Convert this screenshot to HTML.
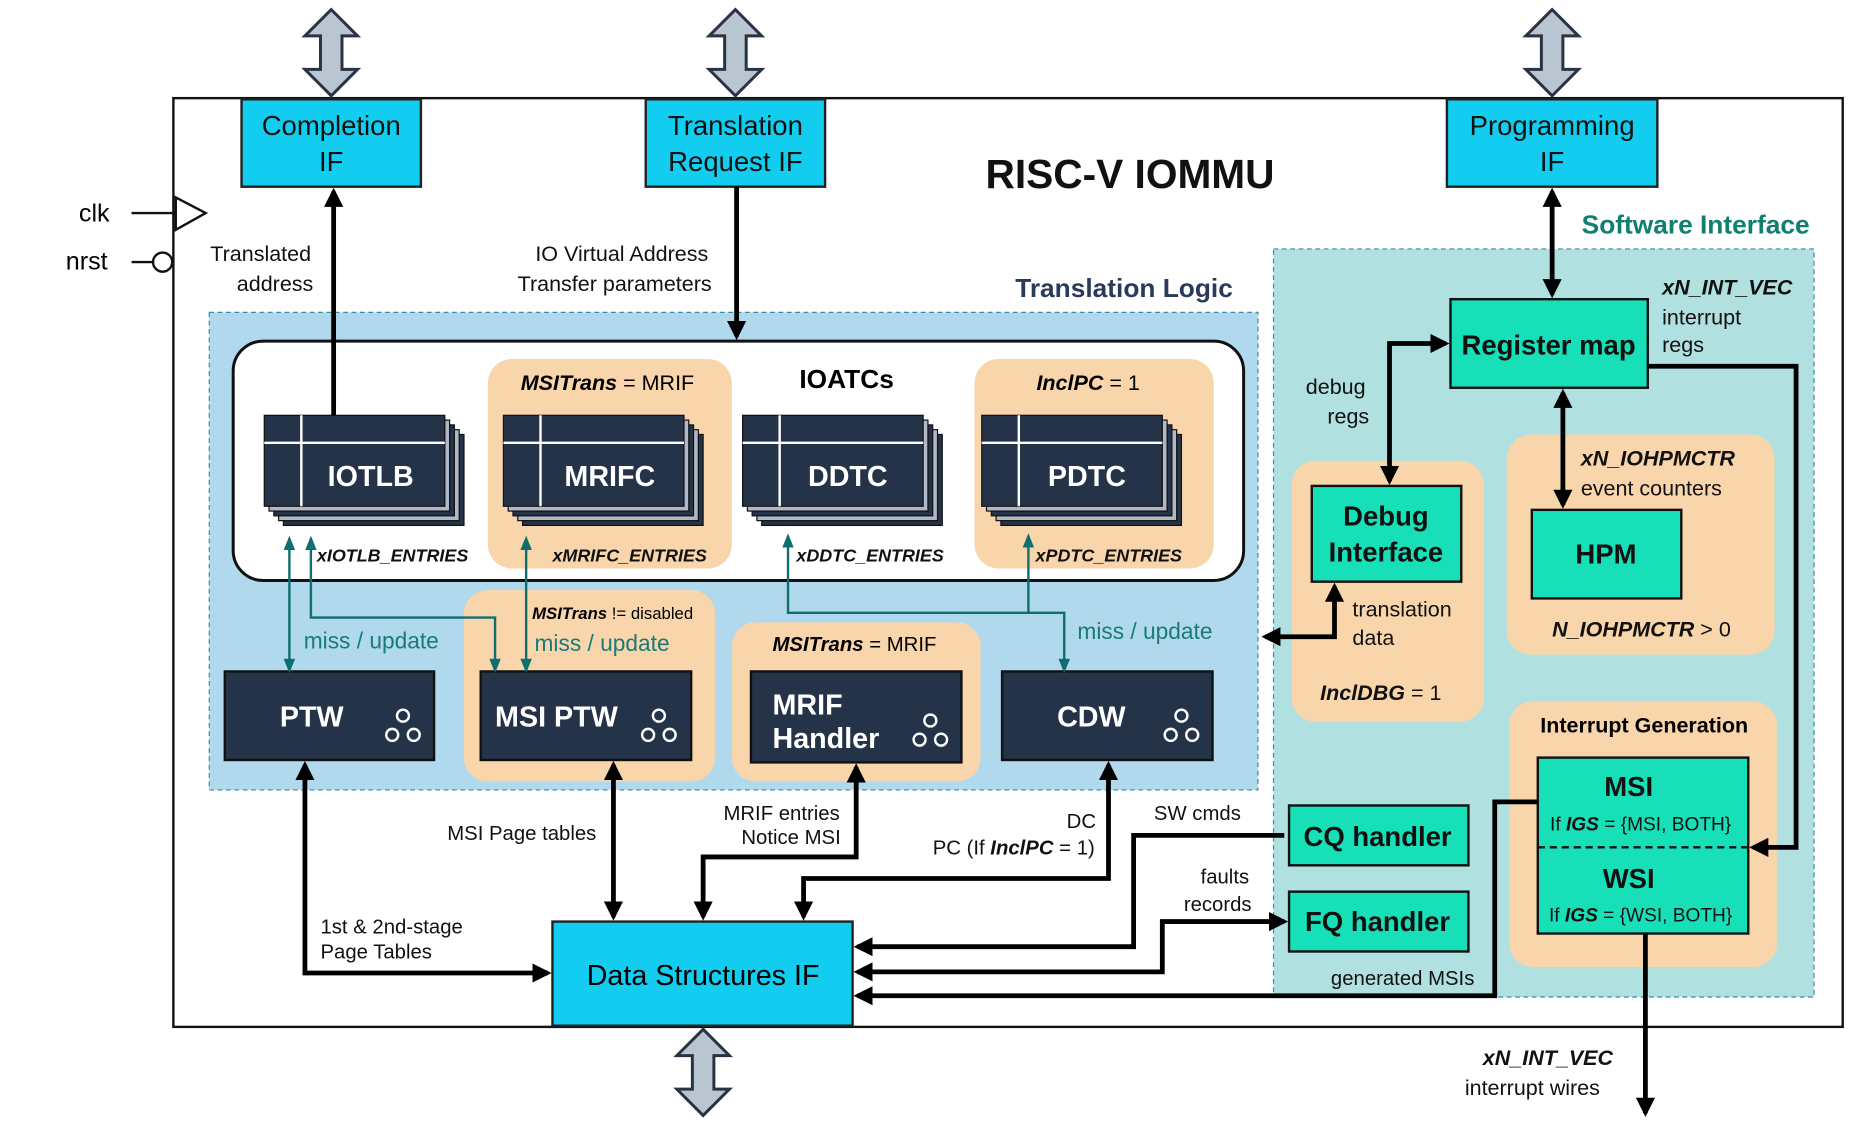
<!DOCTYPE html>
<html><head><meta charset="utf-8"><style>
html,body{margin:0;padding:0;background:#fff}
svg{display:block}
text{font-family:"Liberation Sans",sans-serif}
</style></head><body>
<svg width="1875" height="1137" viewBox="0 0 1568 950" preserveAspectRatio="none" xmlns="http://www.w3.org/2000/svg">
<defs>
<marker id="ah" viewBox="0 0 10 10" refX="8" refY="5" markerWidth="4" markerHeight="4" orient="auto-start-reverse"><path d="M0,0L10,5L0,10z" fill="#000"/></marker>
<marker id="at" viewBox="0 0 10 10" refX="8" refY="5" markerWidth="6" markerHeight="6" orient="auto-start-reverse"><path d="M0,1L10,5L0,9z" fill="#0f6e6e"/></marker>
<g id="dbl"><path d="M0,0 L-22,22 L-9,22 L-9,50 L-22,50 L0,72 L22,50 L9,50 L9,22 L22,22 Z" fill="#b9c5d1" stroke="#2a3342" stroke-width="2.5"/></g>
<g id="cyc" fill="none" stroke="#fff" stroke-width="2"><circle cx="0" cy="-9" r="5"/><circle cx="-9" cy="7" r="5"/><circle cx="9" cy="7" r="5"/></g>
</defs>
<rect x="145" y="82" width="1396" height="776" fill="#fff" stroke="#111" stroke-width="2"/>
<use href="#dbl" x="277" y="8"/><use href="#dbl" x="615" y="8"/><use href="#dbl" x="1298" y="8"/><use href="#dbl" x="588" y="860"/>
<g stroke="#222" stroke-width="2" fill="#12cdf0">
<rect x="202" y="83" width="150" height="73"/><rect x="540" y="83" width="150" height="73"/><rect x="1210" y="83" width="176" height="73"/></g>
<g font-size="23" fill="#111" text-anchor="middle">
<text x="277" y="113">Completion</text><text x="277" y="143">IF</text>
<text x="615" y="113">Translation</text><text x="615" y="143">Request IF</text>
<text x="1298" y="113">Programming</text><text x="1298" y="143">IF</text></g>
<text x="945" y="157" font-size="34" font-weight="bold" text-anchor="middle" fill="#111">RISC-V IOMMU</text>
<text x="66" y="185" font-size="21">clk</text><text x="55" y="225" font-size="21">nrst</text>
<line x1="110" y1="178" x2="147" y2="178" stroke="#111" stroke-width="2"/><path d="M147,165L172,178L147,192Z" fill="#fff" stroke="#111" stroke-width="2"/>
<line x1="110" y1="219" x2="128" y2="219" stroke="#111" stroke-width="2"/><circle cx="136" cy="219" r="8" fill="#fff" stroke="#111" stroke-width="2"/>
<text x="1418" y="195" font-size="22" font-weight="bold" fill="#0f7f6e" text-anchor="middle">Software Interface</text>
<text x="940" y="248" font-size="22" font-weight="bold" fill="#2a3a5a" text-anchor="middle">Translation Logic</text>
<rect x="175" y="261" width="877" height="399" fill="#b0d9ee" stroke="#3a8aa8" stroke-dasharray="4,3"/>
<rect x="1065" y="208" width="452" height="625" fill="#b0e0e0" stroke="#3a8aa8" stroke-dasharray="4,3"/>
<g font-size="18" fill="#111" text-anchor="middle">
<text x="218" y="218">Translated</text><text x="230" y="243">address</text>
<text x="520" y="218">IO Virtual Address</text><text x="514" y="243">Transfer parameters</text></g>
<rect x="195" y="285" width="845" height="200" rx="25" fill="#fff" stroke="#111" stroke-width="2.5"/>
<g fill="#f9d5ab"><rect x="408" y="300" width="204" height="175" rx="20"/><rect x="815" y="300" width="200" height="175" rx="20"/>
<rect x="388" y="493" width="210" height="160" rx="20"/><rect x="612" y="520" width="208" height="133" rx="20"/>
<rect x="1080" y="385" width="161" height="218" rx="20"/><rect x="1260" y="363" width="224" height="184" rx="20"/><rect x="1262" y="586" width="224" height="222" rx="20"/></g>
<text x="708" y="324" font-size="22" font-weight="bold" text-anchor="middle">IOATCs</text>
<text x="508" y="326" font-size="18" text-anchor="middle"><tspan font-weight="bold" font-style="italic">MSITrans</tspan> = MRIF</text>
<text x="910" y="326" font-size="18" text-anchor="middle"><tspan font-weight="bold" font-style="italic">InclPC</tspan> = 1</text>
<g id="c1">
<g transform="translate(221,347)">
<rect x="16" y="16" width="151" height="76" fill="#253349" stroke="#111"/><rect x="12" y="12" width="151" height="76" fill="#b0b8c8" stroke="#111"/>
<rect x="8" y="8" width="151" height="76" fill="#253349" stroke="#111"/><rect x="4" y="4" width="151" height="76" fill="#b0b8c8" stroke="#111"/>
<rect x="0" y="0" width="151" height="76" fill="#253349" stroke="#111"/>
<line x1="0" y1="23" x2="151" y2="23" stroke="#fff" stroke-width="2"/><line x1="31" y1="0" x2="31" y2="76" stroke="#fff" stroke-width="2"/></g></g>
<use href="#c1" x="200"/><use href="#c1" x="400"/><use href="#c1" x="600"/>
<g font-size="24" font-weight="bold" fill="#fff" text-anchor="middle">
<text x="310" y="406">IOTLB</text><text x="510" y="406">MRIFC</text><text x="709" y="406">DDTC</text><text x="909" y="406">PDTC</text></g>
<g font-size="15" font-weight="bold" font-style="italic" fill="#111">
<text x="265" y="469">xIOTLB_ENTRIES</text><text x="462" y="469">xMRIFC_ENTRIES</text><text x="666" y="469">xDDTC_ENTRIES</text><text x="866" y="469">xPDTC_ENTRIES</text></g>
<g fill="#253349" stroke="#111" stroke-width="2">
<rect x="188" y="561" width="175" height="74"/><rect x="402" y="561" width="176" height="74"/><rect x="628" y="561" width="176" height="76"/><rect x="838" y="561" width="176" height="74"/></g>
<g font-size="24" font-weight="bold" fill="#fff">
<text x="234" y="607">PTW</text><text x="414" y="607">MSI PTW</text><text x="646" y="597">MRIF</text><text x="646" y="625">Handler</text><text x="884" y="607">CDW</text></g>
<use href="#cyc" x="337" y="607"/><use href="#cyc" x="551" y="607"/><use href="#cyc" x="778" y="611"/><use href="#cyc" x="988" y="607"/>
<text x="445" y="517" font-size="14"><tspan font-weight="bold" font-style="italic">MSITrans</tspan> != disabled</text>
<text x="646" y="544" font-size="17"><tspan font-weight="bold" font-style="italic">MSITrans</tspan>  = MRIF</text>
<g font-size="19" fill="#1a7a7a"><text x="254" y="542">miss / update</text><text x="447" y="544">miss / update</text><text x="901" y="534">miss / update</text></g>
<g stroke="#0f6e6e" stroke-width="2" fill="none">
<line x1="242" y1="450" x2="242" y2="560" marker-start="url(#at)" marker-end="url(#at)"/>
<path d="M260,450 L260,516 L414,516 L414,560" marker-start="url(#at)" marker-end="url(#at)"/>
<line x1="440" y1="450" x2="440" y2="560" marker-start="url(#at)" marker-end="url(#at)"/>
<path d="M659,448 L659,512 L890,512 L890,560" marker-start="url(#at)" marker-end="url(#at)"/>
<line x1="860" y1="448" x2="860" y2="512" marker-start="url(#at)"/></g>
<rect x="462" y="770" width="251" height="87" fill="#12cdf0" stroke="#222" stroke-width="2"/>
<text x="588" y="823" font-size="24" text-anchor="middle">Data Structures IF</text>
<g fill="#17e0b8" stroke="#111" stroke-width="2">
<rect x="1213" y="250" width="165" height="74"/><rect x="1097" y="406" width="125" height="80"/><rect x="1281" y="426" width="125" height="74"/>
<rect x="1286" y="633" width="176" height="147"/><rect x="1078" y="673" width="150" height="50"/><rect x="1078" y="745" width="150" height="50"/></g>
<line x1="1286" y1="708" x2="1462" y2="708" stroke="#111" stroke-width="2" stroke-dasharray="6,4"/>
<g font-size="23" font-weight="bold" fill="#111" text-anchor="middle">
<text x="1295" y="296">Register map</text><text x="1159" y="439">Debug</text><text x="1159" y="469">Interface</text><text x="1343" y="471">HPM</text>
<text x="1362" y="665">MSI</text><text x="1362" y="742">WSI</text><text x="1152" y="707">CQ handler</text><text x="1152" y="778">FQ handler</text></g>
<g font-size="16" text-anchor="middle" fill="#111"><text x="1372" y="694">If <tspan font-weight="bold" font-style="italic">IGS</tspan> = {MSI, BOTH}</text><text x="1372" y="770">If <tspan font-weight="bold" font-style="italic">IGS</tspan> = {WSI, BOTH}</text></g>
<text x="1375" y="612" font-size="18" font-weight="bold" text-anchor="middle">Interrupt Generation</text>
<g font-size="18" fill="#111">
<text x="1390" y="246" font-weight="bold" font-style="italic">xN_INT_VEC</text><text x="1390" y="271">interrupt</text><text x="1390" y="294">regs</text>
<text x="1092" y="329">debug</text><text x="1110" y="354">regs</text>
<text x="1322" y="389" font-weight="bold" font-style="italic">xN_IOHPMCTR</text><text x="1322" y="414">event counters</text>
<text x="1298" y="532"><tspan font-weight="bold" font-style="italic">N_IOHPMCTR</tspan> &gt; 0</text>
<text x="1131" y="515">translation</text><text x="1131" y="539">data</text>
<text x="1104" y="585"><tspan font-weight="bold" font-style="italic">InclDBG</tspan> = 1</text>
<text x="1113" y="823" font-size="17">generated MSIs</text>
<text x="1240" y="890" font-weight="bold" font-style="italic">xN_INT_VEC</text><text x="1225" y="915">interrupt wires</text>
<text x="374" y="702" font-size="17">MSI Page tables</text>
<text x="605" y="685" font-size="17">MRIF entries</text><text x="620" y="705" font-size="17">Notice MSI</text>
<text x="892" y="692" font-size="17">DC</text><text x="780" y="714" font-size="17">PC (If <tspan font-weight="bold" font-style="italic">InclPC</tspan> = 1)</text>
<text x="965" y="685" font-size="17">SW cmds</text><text x="1004" y="738" font-size="17">faults</text><text x="990" y="761" font-size="17">records</text>
<text x="268" y="780" font-size="17">1st &amp; 2nd-stage</text><text x="268" y="801" font-size="17">Page Tables</text></g>
<g stroke="#000" stroke-width="4" fill="none" marker-end="url(#ah)">
<line x1="279" y1="347" x2="279" y2="160"/>
<line x1="616" y1="156" x2="616" y2="281"/>
<line x1="1298" y1="246" x2="1298" y2="160" marker-start="url(#ah)"/>
<path d="M1162,402 L1162,287 L1209,287" marker-start="url(#ah)"/>
<line x1="1307" y1="328" x2="1307" y2="422" marker-start="url(#ah)"/>
<path d="M1058,532 L1116,532 L1116,490" marker-start="url(#ah)"/>
<path d="M1378,306 L1502,306 L1502,708 L1466,708"/>
<line x1="1376" y1="780" x2="1376" y2="930"/>
<path d="M255,639 L255,813 L458,813" marker-start="url(#ah)"/>
<line x1="513" y1="639" x2="513" y2="766" marker-start="url(#ah)"/>
<path d="M716,641 L716,716 L588,716 L588,766" marker-start="url(#ah)"/>
<path d="M927,639 L927,734 L672,734 L672,766" marker-start="url(#ah)"/>
<path d="M1074,698 L948,698 L948,791 L717,791" />
<path d="M1074,770 L972,770 L972,812 L717,812" marker-start="url(#ah)"/>
<path d="M1286,670 L1250,670 L1250,832 L717,832"/></g>
</svg>
</body></html>
